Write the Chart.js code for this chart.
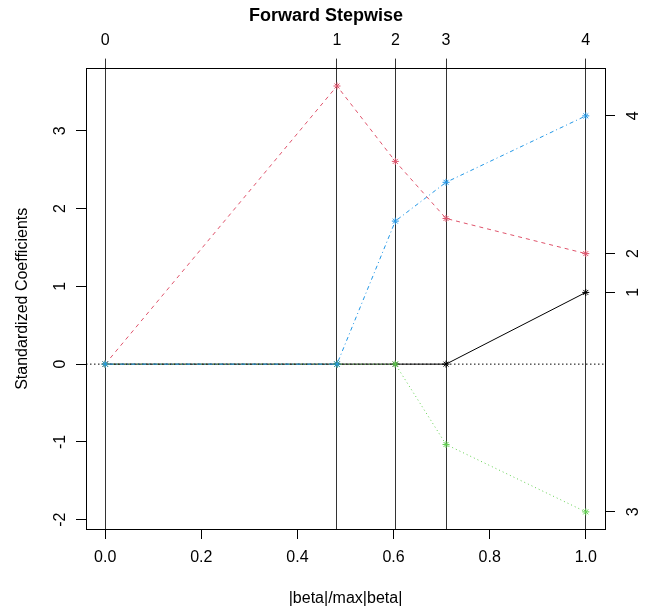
<!DOCTYPE html>
<html>
<head>
<meta charset="utf-8">
<script src="https://cdn.jsdelivr.net/npm/chart.js@4/dist/chart.umd.min.js"></script>
<style>
  body { margin: 0; background: #fff; }
</style>
</head>
<body>
<canvas id="myChart" width="652" height="608"></canvas>
<script>
// pasos del forward stepwise en |beta|/max|beta|
const steps = [0, 0.4823, 0.6037, 0.7092, 1.0];
const stepLabels = ['0', '1', '2', '3', '4'];
// coeficientes estandarizados de cada variable en cada paso
const coef1 = [0, 0, 0, 0, 0.922];
const coef2 = [0, 3.576, 2.607, 1.873, 1.421];
const coef3 = [0, 0, 0, -1.033, -1.900];
const coef4 = [0, 0, 1.839, 2.338, 3.192];
const varLabels = ['1', '2', '3', '4'];
// ejes
const xTicks = [0, 0.2, 0.4, 0.6, 0.8, 1.0];
const xTickLabels = ['0.0', '0.2', '0.4', '0.6', '0.8', '1.0'];
const yTicks = [-2, -1, 0, 1, 2, 3];
const yTickLabels = ['-2', '-1', '0', '1', '2', '3'];
const xMin = -0.04, xMax = 1.04, yMin = -2.12, yMax = 3.80;

const FONT = '"Liberation Sans", Arial, sans-serif';
const coefs = [coef1, coef2, coef3, coef4];
const finals = coefs.map(c => c[c.length - 1]);
const colors = ['#000000', '#DF536B', '#61D04F', '#2297E6'];
const dashes = [[], [4, 4], [1, 3], [1, 3, 4, 3]];

const toPoints = c => steps.map((s, i) => ({ x: s, y: c[i] }));

const datasets = coefs.map((c, i) => ({
  label: varLabels[i],
  data: toPoints(c),
  borderColor: colors[i],
  backgroundColor: colors[i],
  borderWidth: 1,
  borderDash: dashes[i],
  pointStyle: 'star',
  pointRadius: 3.5,
  pointBorderWidth: 1,
  order: 4 - i
}));
// linea punteada en cero
datasets.push({
  label: 'cero',
  data: [{ x: xMin, y: 0 }, { x: xMax, y: 0 }],
  borderColor: '#000',
  borderWidth: 1,
  borderDash: [1.5, 2.5],
  pointRadius: 0,
  order: 10
});

// etiquetas verticales de los ejes y (como en R)
const rotatedYLabels = {
  id: 'rotatedYLabels',
  afterDraw(chart) {
    const ctx = chart.ctx;
    const area = chart.chartArea;
    ctx.save();
    ctx.font = '16px ' + FONT;
    ctx.fillStyle = '#000';
    ctx.textAlign = 'center';
    ctx.textBaseline = 'middle';
    const draw = (scale, labels, x) => {
      scale.ticks.forEach((t, i) => {
        ctx.save();
        ctx.translate(x, scale.getPixelForValue(t.value));
        ctx.rotate(-Math.PI / 2);
        ctx.fillText(labels[i], 0, 0);
        ctx.restore();
      });
    };
    draw(chart.scales.y, yTickLabels, area.left - 25);
    draw(chart.scales.y2, varLabels, area.right + 29);
    ctx.restore();
  }
};

const tickFont = { family: FONT, size: 16 };

new Chart(document.getElementById('myChart'), {
  type: 'line',
  data: { datasets: datasets },
  plugins: [rotatedYLabels],
  options: {
    responsive: false,
    animation: false,
    layout: { padding: 0 },
    plugins: {
      legend: { display: false },
      tooltip: { enabled: false },
      title: {
        display: true,
        text: 'Forward Stepwise',
        color: '#000',
        font: { family: FONT, size: 18, weight: 'bold' },
        padding: { top: 5, bottom: 0 }
      }
    },
    scales: {
      x: {
        type: 'linear',
        position: 'bottom',
        min: xMin,
        max: xMax,
        afterBuildTicks: s => { s.ticks = xTicks.map(v => ({ value: v })); },
        afterFit: s => { s.height = 79; },
        ticks: {
          autoSkip: false,
          maxRotation: 0,
          color: '#000',
          font: tickFont,
          padding: 9,
          callback: (v, i) => xTickLabels[i]
        },
        grid: { drawOnChartArea: false, tickLength: 10, tickColor: '#000' },
        border: { display: true, color: '#000', width: 1 },
        title: {
          display: true,
          text: '|beta|/max|beta|',
          color: '#000',
          font: { family: FONT, size: 16 },
          padding: { top: 0, bottom: 0 }
        }
      },
      x2: {
        type: 'linear',
        position: 'top',
        min: xMin,
        max: xMax,
        afterBuildTicks: s => { s.ticks = steps.map(v => ({ value: v })); },
        afterFit: s => { s.height = 42; },
        ticks: {
          autoSkip: false,
          maxRotation: 0,
          color: '#000',
          font: tickFont,
          padding: 8,
          callback: (v, i) => stepLabels[i]
        },
        grid: { drawOnChartArea: true, color: '#333', lineWidth: 1, tickLength: 10, tickColor: '#333' },
        border: { display: true, color: '#000', width: 1 }
      },
      y: {
        type: 'linear',
        position: 'left',
        min: yMin,
        max: yMax,
        afterBuildTicks: s => { s.ticks = yTicks.map(v => ({ value: v })); },
        afterFit: s => { s.width = 86; },
        ticks: { display: false, autoSkip: false },
        grid: { drawOnChartArea: false, tickLength: 10, tickColor: '#000' },
        border: { display: true, color: '#000', width: 1 },
        title: {
          display: true,
          text: 'Standardized Coefficients',
          color: '#000',
          font: { family: FONT, size: 16 },
          padding: { top: 13, bottom: 0 }
        }
      },
      y2: {
        type: 'linear',
        position: 'right',
        min: yMin,
        max: yMax,
        afterBuildTicks: s => { s.ticks = finals.map(v => ({ value: v })); },
        afterFit: s => { s.width = 47; },
        ticks: { display: false, autoSkip: false },
        grid: { drawOnChartArea: false, tickLength: 10, tickColor: '#000' },
        border: { display: true, color: '#000', width: 1 }
      }
    }
  }
});
</script>
</body>
</html>
